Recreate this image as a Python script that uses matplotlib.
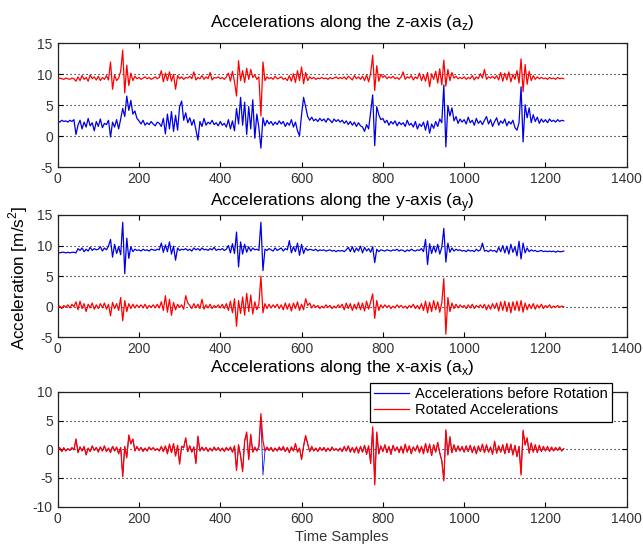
import matplotlib
matplotlib.use("Agg")
import matplotlib.pyplot as plt
import numpy as np


# accelerations, one value every 5 samples (0 ... 1245)
SAMPLE_STEP = 5

z_before = [
    2.5, 2.3, 2.6, 2.4, 2.5, 2.3, 2.6, 2.4, 2.7, 0.3,
    1.8, 2.6, 1.2, 2.3, 1.5, 2.9, 1.7, 2.2, 0.9, 2.4,
    1.6, 2.8, 1.4, 2.1, 1.9, 2.6, -0.1, 2.3, 1.5, 2.7,
    1.2, 2.8, 4.5, 3.2, 6.5, 4.2, 5.8, 3.6, 4.1, 2.9,
    2.5, 2.0, 2.6, 1.8, 2.2, 1.9, 2.4, 2.0, 1.7, 2.3,
    2.1, 1.6, 2.9, 0.4, 3.6, 1.2, 4.0, 0.8, 3.4, 1.0,
    4.8, 5.7, 2.6, 3.8, 2.2, 3.0, 1.8, 2.7, 1.1, -0.6,
    2.4, 1.6, 2.9, 1.8, 2.3, 2.0, 2.6, 1.9, 2.2, 1.7,
    2.4, 1.8, 2.1, 1.5, 2.7, 1.2, 2.5, 0.9, 4.5, 2.0,
    6.3, 1.8, 5.5, 0.3, 4.8, 1.2, 5.9, -0.3, 3.6, 1.4,
    -1.9, 3.0, 1.7, 2.6, 2.0, 2.4, 1.8, 2.3, 1.9, 2.5,
    2.0, 2.4, 1.6, 2.2, 1.8, 2.7, 1.5, 2.3, 0.9, 0.1,
    3.5, 6.3, 4.8, 3.2, 2.6, 3.1, 2.5, 2.8, 2.4, 2.9,
    2.5, 2.8, 2.3, 2.9, 2.6, 2.2, 2.8, 2.4, 2.7, 2.3,
    2.6, 2.1, 2.5, 1.9, 2.4, 1.8, 2.3, 1.6, 2.2, 1.7,
    1.5, 0.8, 1.9, 1.2, 4.0, 6.7, -1.5, 4.8, 3.5, 2.7,
    2.9, 2.2, 2.6, 1.8, 2.4, 2.0, 2.5, 1.7, 2.3, 1.9,
    2.2, 1.6, 2.6, 1.8, 2.1, 1.5, 2.4, 1.2, 2.0, 1.6,
    2.3, 1.0, 2.5, 0.5, 2.0, 1.3, 2.4, 1.6, 2.8, 2.2,
    8.3, -1.7, 5.0, 3.3, 4.6, 2.5, 3.2, 2.1, 2.8, 2.3,
    2.7, 2.0, 3.1, 2.2, 2.6, 1.8, 2.9, 2.1, 2.5, 1.9,
    2.6, 3.2, 2.0, 2.7, 1.6, 2.4, 3.0, 1.8, 2.5, 2.1,
    2.8, 1.7, 2.4, 2.0, 2.6, 1.4, 1.0, 2.2, 8.0, -0.9,
    5.1, 3.0, 4.6, 2.2, 3.5, 2.4, 3.1, 2.1, 2.8, 2.3,
    2.7, 2.2, 2.8, 2.4, 2.6, 2.3, 2.7, 2.4, 2.6, 2.5,
]

z_rotated = [
    9.2, 9.4, 9.3, 9.2, 9.4, 9.3, 9.2, 9.4, 9.3, 8.9,
    9.6, 9.0, 9.8, 9.2, 9.5, 8.9, 9.9, 9.3, 9.6, 9.1,
    9.7, 9.0, 9.5, 9.2, 9.8, 9.1, 12.0, 7.6, 9.9, 9.0,
    9.4, 10.5, 13.9, 7.0, 11.5, 8.2, 10.2, 9.0, 9.7, 9.3,
    9.5, 9.2, 9.4, 9.6, 9.3, 9.5, 9.2, 9.4, 9.6, 9.3,
    9.5, 10.6, 8.8, 10.2, 9.0, 10.4, 8.9, 10.0, 7.6, 9.8,
    9.3, 9.6, 9.2, 9.5, 9.4, 9.7, 9.3, 10.4, 9.1, 9.5,
    9.3, 9.8, 9.2, 9.6, 9.3, 10.3, 9.1, 9.5, 9.4, 9.6,
    9.3, 9.5, 9.2, 9.6, 10.2, 8.9, 10.5, 8.8, 6.5, 12.2,
    9.0, 10.6, 8.7, 11.0, 9.2, 10.8, 9.5, 9.9, 9.2, 9.6,
    3.3, 12.0, 9.0, 9.6, 9.3, 9.5, 9.2, 9.7, 9.3, 9.4,
    9.6, 9.2, 9.4, 9.0, 9.8, 8.9, 10.1, 8.7, 10.6, 9.0,
    11.2, 8.5, 10.3, 9.0, 9.6, 9.3, 9.5, 9.2, 9.4, 9.3,
    9.5, 9.3, 9.4, 9.2, 9.5, 9.3, 9.4, 9.6, 9.3, 9.5,
    9.3, 9.6, 9.2, 9.7, 9.4, 9.1, 9.8, 9.3, 9.6, 9.2,
    9.7, 9.0, 9.9, 8.8, 10.2, 13.1, 7.4, 11.4, 8.9, 10.0,
    9.5, 9.8, 9.3, 9.6, 9.4, 9.7, 9.3, 9.5, 9.2, 9.6,
    10.4, 9.2, 9.6, 9.4, 9.8, 9.1, 9.6, 9.3, 10.2, 9.0,
    9.9, 8.9, 10.3, 8.0, 10.1, 9.2, 10.5, 8.6, 10.9, 8.3,
    12.3, 8.1, 10.8, 9.0, 10.3, 9.4, 9.7, 9.3, 9.5, 9.3,
    9.6, 9.2, 9.5, 9.3, 9.8, 9.1, 9.6, 9.3, 10.1, 9.4,
    10.8, 9.2, 9.6, 9.4, 9.7, 9.3, 9.8, 9.1, 10.3, 8.9,
    10.2, 9.1, 10.4, 8.8, 10.0, 9.2, 10.6, 8.6, 12.5, 7.2,
    11.6, 8.4, 10.5, 9.0, 9.8, 9.2, 9.6, 9.3, 9.5, 9.3,
    9.4, 9.2, 9.5, 9.3, 9.4, 9.2, 9.5, 9.3, 9.4, 9.3,
]

y_before = [
    8.9, 8.8, 8.9, 8.9, 8.8, 8.9, 8.8, 8.9, 8.9, 8.8,
    9.5, 9.2, 9.6, 9.0, 9.4, 9.1, 9.7, 9.2, 9.5, 9.3,
    9.4, 9.8, 9.1, 9.6, 9.3, 9.9, 11.0, 8.1, 10.2, 8.7,
    9.8, 8.5, 13.8, 5.4, 11.2, 7.9, 9.8, 9.0, 9.4, 9.2,
    9.3, 9.1, 9.4, 9.2, 9.3, 9.1, 9.4, 9.3, 9.2, 9.4,
    9.3, 10.4, 8.9, 10.1, 9.0, 10.6, 8.6, 9.9, 7.6, 9.6,
    9.2, 9.4, 9.3, 9.5, 9.2, 9.4, 9.1, 9.6, 9.3, 9.5,
    9.2, 9.6, 9.3, 9.4, 9.2, 9.5, 9.3, 9.7, 9.2, 9.4,
    9.3, 9.5, 9.2, 9.4, 10.0, 8.8, 10.3, 8.7, 12.2, 6.5,
    10.6, 8.6, 10.2, 8.9, 9.8, 9.1, 9.6, 9.3, 9.4, 9.2,
    13.8, 5.9, 9.4, 9.2, 9.5, 9.3, 9.1, 9.6, 9.2, 9.4,
    9.6, 9.1, 9.5, 9.3, 10.8, 8.8, 9.8, 9.0, 10.4, 8.4,
    10.2, 8.7, 9.6, 9.2, 9.4, 9.3, 9.2, 9.4, 9.1, 9.3,
    9.2, 9.3, 9.1, 9.2, 9.3, 9.1, 9.2, 9.0, 9.2, 9.1,
    9.2, 9.0, 9.3, 9.7, 9.0, 9.8, 8.9, 9.6, 9.1, 9.9,
    8.8, 9.7, 9.1, 9.5, 8.9, 9.8, 7.2, 9.4, 9.0, 9.3,
    9.2, 9.1, 9.3, 9.2, 9.1, 9.3, 9.2, 9.4, 9.1, 9.3,
    9.2, 9.0, 9.3, 9.1, 9.4, 9.2, 9.1, 9.3, 9.2, 9.5,
    9.0, 11.0, 6.9, 10.3, 8.7, 9.9, 8.9, 10.2, 8.6, 9.7,
    12.8, 7.3, 10.4, 8.9, 9.6, 9.1, 9.4, 9.2, 9.3, 9.1,
    9.2, 9.0, 9.3, 9.1, 9.2, 9.0, 9.4, 9.1, 9.3, 10.4,
    9.1, 9.2, 9.0, 9.3, 9.1, 9.2, 8.9, 9.7, 9.0, 10.0,
    8.8, 9.9, 8.6, 10.2, 8.9, 9.8, 8.3, 10.7, 7.8, 10.4,
    8.8, 9.6, 9.0, 9.3, 9.1, 9.2, 9.0, 9.1, 9.2, 9.0,
    9.1, 9.0, 9.1, 9.0, 9.1, 8.9, 9.1, 9.0, 9.0, 9.1,
]

y_rotated = [
    -0.2, 0.1, -0.3, 0.2, -0.1, 0.3, -0.2, 0.4, 0.0, 0.8,
    -0.5, 0.9, -0.3, 0.5, -0.8, 0.4, -0.2, 0.6, -0.4, 0.3,
    -0.3, 0.5, -0.2, 0.6, -0.4, 0.4, -1.5, 0.7, -0.3, 0.5,
    -0.6, 1.5, -2.3, 1.0, -0.8, 0.5, -0.3, 0.4, -0.2, 0.3,
    -0.1, 0.3, -0.2, 0.4, -0.3, 0.2, -0.1, 0.3, -0.2, 0.4,
    -0.2, 0.8, -0.6, 1.8, -0.9, 1.2, -1.4, 0.7, -0.5, 0.4,
    -0.1, 0.3, -0.4, 1.8, 0.6, 0.2, -0.3, 0.5, -0.2, 0.4,
    -0.3, 1.2, -0.4, 0.3, -0.2, 0.4, -0.3, 0.2, -0.1, 0.3,
    -0.2, 0.4, -0.3, 0.5, -0.6, 0.9, -1.0, 1.3, -3.2, 1.0,
    -1.1, 1.6, -1.4, 2.2, -0.8, 1.9, -1.2, 0.8, -0.5, 0.4,
    5.0, -1.0, 0.5, -0.3, 0.4, -0.2, 0.3, -0.1, 0.4, -0.3,
    0.3, -0.5, 0.6, -0.4, 0.5, -0.7, 0.6, -0.3, 0.8, -0.6,
    0.4, -0.5, 1.3, 0.2, 0.6, -0.2, 0.3, -0.1, 0.2, -0.3,
    0.1, -0.2, 0.3, -0.1, 0.2, -0.3, 0.1, -0.2, 0.3, -0.1,
    0.4, -0.5, 0.6, -0.3, 0.5, -0.6, 0.4, -0.4, 0.7, -0.5,
    0.6, -0.7, 0.9, -0.4, 0.8, 2.1, -1.9, 1.0, -0.6, 0.3,
    -0.2, 0.3, -0.1, 0.2, -0.3, 0.1, -0.2, 0.3, -0.1, 0.2,
    -0.2, 0.1, -0.3, 0.2, -0.1, 0.4, -0.3, 0.2, -0.4, 0.5,
    -0.6, 0.9, -1.0, 0.7, -0.8, 1.0, -0.5, 0.8, -0.9, 0.6,
    4.6, -4.5, 1.5, -0.8, 0.6, -0.3, 0.4, -0.2, 0.3, -0.1,
    0.2, -0.3, 0.3, -0.2, 0.4, -0.3, 0.2, -0.1, 0.3, -0.2,
    0.4, -0.5, 0.3, -0.4, 0.5, -0.3, 0.6, -0.7, 0.8, -0.6,
    0.9, -0.8, 0.7, -1.0, 0.8, -0.6, 0.9, -0.7, 1.0, -0.9,
    0.6, -0.5, 0.4, -0.3, 0.5, -0.4, 0.3, -0.2, 0.4, -0.3,
    0.2, -0.1, 0.3, -0.2, 0.1, -0.1, 0.2, -0.1, 0.1, 0.0,
]

x_before = [
    -0.1, 0.2, -0.4, 0.3, -0.3, 0.1, -0.2, 0.2, -0.1, 1.7,
    -0.5, 0.4, -0.3, 0.4, -0.9, 0.2, -0.4, 0.5, -0.2, 0.3,
    -0.4, 0.4, -0.3, 0.5, -0.4, 0.2, -0.5, 0.5, -0.3, 0.3,
    -0.7, 0.3, -4.6, 0.4, -1.3, 2.3, 0.9, 1.7, -0.3, 0.4,
    -0.2, 0.3, -0.3, 0.2, -0.3, 0.3, -0.1, 0.2, -0.2, 0.1,
    -0.3, 0.4, -0.4, 0.5, -0.7, 0.8, -0.6, 0.9, -1.1, 0.6,
    -2.4, 0.5, 0.2, 1.9, -0.4, 0.5, -0.5, 0.4, -2.3, 2.1,
    -0.3, 0.3, -0.2, 0.3, -0.3, 0.2, -0.3, 0.3, -0.2, 0.3,
    -0.3, 0.2, -0.3, 0.3, -0.2, 0.3, -0.5, 0.5, -3.5, 0.7,
    -1.1, -3.7, 1.4, 2.8, -1.7, 2.4, -0.5, 0.3, -0.3, 0.4,
    5.6, -4.5, -0.3, 0.3, -0.2, 0.3, -0.3, 0.2, -0.3, 0.3,
    -0.2, 0.4, -0.4, 0.3, -0.5, 0.4, -0.3, 0.9, -0.5, 0.2,
    -1.7, 0.5, 2.2, 0.9, -0.4, 0.4, -0.3, 0.2, -0.3, 0.3,
    -0.2, 0.3, -0.3, 0.2, -0.3, 0.3, -0.2, 0.1, -0.3, 0.2,
    -0.4, 0.4, -0.3, 0.5, -0.5, 0.3, -0.5, 0.4, -0.6, 0.4,
    -0.5, 0.6, -0.8, 0.5, -2.3, 3.6, -5.9, 2.8, -0.8, 0.5,
    -0.4, 0.7, -0.6, 0.4, -0.8, 0.6, -0.3, 0.4, -0.5, 0.4,
    -0.6, 0.8, -0.5, 0.5, -0.7, 0.4, -0.3, 0.6, -0.5, 0.4,
    -0.7, 0.9, -0.6, 0.8, -1.0, 0.7, -0.5, 1.1, -0.6, -1.9,
    -5.2, 3.2, -0.9, 2.0, -0.6, 0.7, -0.4, 0.5, -0.3, 0.4,
    -0.5, 0.5, -0.4, 0.6, -0.5, 0.5, -0.7, 0.5, -0.4, 0.8,
    -0.6, 0.7, -0.5, 0.4, -0.8, 1.3, -0.6, 0.5, -0.5, 0.7,
    -0.7, 0.9, -0.6, 0.8, -0.9, 0.6, -1.2, 0.5, -4.2, 3.1,
    0.7, 1.9, -0.6, 1.0, -0.5, 0.7, -0.5, 0.6, -0.4, 0.4,
    -0.3, 0.4, -0.3, 0.3, -0.3, 0.3, -0.2, 0.3, -0.3, 0.1,
]

x_rotated = [
    -0.1, 0.3, -0.4, 0.2, -0.3, 0.1, -0.2, 0.3, -0.1, 1.8,
    -0.6, 0.4, -0.3, 0.5, -1.0, 0.2, -0.4, 0.6, -0.2, 0.3,
    -0.5, 0.4, -0.3, 0.6, -0.4, 0.2, -0.6, 0.5, -0.3, 0.4,
    -0.8, 0.3, -4.8, 0.5, -1.5, 2.5, 1.0, 1.8, -0.3, 0.5,
    -0.2, 0.3, -0.4, 0.2, -0.3, 0.4, -0.1, 0.3, -0.2, 0.1,
    -0.3, 0.5, -0.4, 0.6, -0.8, 0.9, -0.6, 1.0, -1.2, 0.7,
    -2.6, 0.5, 0.3, 2.0, -0.4, 0.6, -0.5, 0.4, -2.5, 2.3,
    -0.3, 0.4, -0.2, 0.3, -0.4, 0.2, -0.3, 0.4, -0.2, 0.3,
    -0.3, 0.2, -0.4, 0.3, -0.2, 0.4, -0.5, 0.6, -3.7, 0.8,
    -1.2, -3.9, 1.5, 3.0, -1.8, 2.6, -0.5, 0.4, -0.3, 0.5,
    6.2, 1.5, -0.3, 0.4, -0.2, 0.3, -0.4, 0.2, -0.3, 0.4,
    -0.2, 0.5, -0.4, 0.3, -0.6, 0.4, -0.3, 1.0, -0.5, 0.2,
    -1.8, 0.6, 2.4, 1.0, -0.4, 0.5, -0.3, 0.2, -0.4, 0.3,
    -0.2, 0.3, -0.4, 0.2, -0.3, 0.4, -0.2, 0.1, -0.3, 0.2,
    -0.4, 0.5, -0.3, 0.6, -0.5, 0.3, -0.6, 0.4, -0.7, 0.5,
    -0.5, 0.7, -0.9, 0.6, -2.5, 3.9, -6.2, 3.0, -0.8, 0.6,
    -0.4, 0.8, -0.6, 0.5, -0.9, 0.7, -0.3, 0.4, -0.6, 0.5,
    -0.7, 0.9, -0.5, 0.6, -0.8, 0.4, -0.3, 0.7, -0.6, 0.5,
    -0.8, 1.0, -0.6, 0.9, -1.1, 0.8, -0.5, 1.2, -0.7, -2.0,
    -5.5, 3.4, -1.0, 2.2, -0.6, 0.8, -0.4, 0.6, -0.3, 0.5,
    -0.5, 0.6, -0.4, 0.7, -0.6, 0.5, -0.8, 0.6, -0.4, 0.9,
    -0.6, 0.8, -0.5, 0.4, -0.9, 1.4, -0.7, 0.6, -0.5, 0.8,
    -0.8, 1.0, -0.6, 0.9, -1.0, 0.7, -1.3, 0.5, -4.5, 3.3,
    0.8, 2.0, -0.7, 1.1, -0.5, 0.8, -0.6, 0.7, -0.4, 0.5,
    -0.3, 0.5, -0.4, 0.4, -0.3, 0.3, -0.2, 0.4, -0.3, 0.1,
]

titles = [
    "Accelerations along the z-axis (a$_\\mathregular{z}$)",
    "Accelerations along the y-axis (a$_\\mathregular{y}$)",
    "Accelerations along the x-axis (a$_\\mathregular{x}$)",
]
legend_labels = ["Accelerations before Rotation", "Rotated Accelerations"]
x_ticks = [0, 200, 400, 600, 800, 1000, 1200, 1400]
y_ticks_top = [-5, 0, 5, 10, 15]
y_ticks_bottom = [-10, -5, 0, 5, 10]

BLUE = "#0000e6"
RED = "#ff0000"
TICK_GREY = "#333333"


def style_axis(ax, yticks):
    ax.set_xlim(0, 1400)
    ax.set_ylim(yticks[0], yticks[-1])
    ax.set_xticks(x_ticks)
    ax.set_yticks(yticks)
    ax.tick_params(direction="in", length=3.5, width=0.8, top=True, right=True,
                   labelsize=10, labelcolor=TICK_GREY, pad=3.5)
    for spine in ax.spines.values():
        spine.set_linewidth(0.9)
        spine.set_color("#222222")
    # matlab style dotted grid on y only
    for y in yticks[1:-1]:
        ax.axhline(y, color="black", lw=0.8, ls=(0, (1, 2.6)), zorder=0)


def main():
    plt.rcParams["font.family"] = ["Liberation Sans", "DejaVu Sans"]
    plt.rcParams["mathtext.fontset"] = "custom"
    plt.rcParams["mathtext.rm"] = "Liberation Sans"
    plt.rcParams["axes.unicode_minus"] = False

    fig = plt.figure(figsize=(6.43, 5.47), dpi=100)
    left, width = 0.0897, 0.885
    axes = [
        fig.add_axes([left, 0.694, width, 0.2267]),
        fig.add_axes([left, 0.3834, width, 0.2236]),
        fig.add_axes([left, 0.0737, width, 0.210]),
    ]
    panels = [(z_before, z_rotated), (y_before, y_rotated), (x_before, x_rotated)]
    pads = [12.0, 6.5, 14.0]
    blue_widths = [0.9, 0.9, 0.55]
    yticks_list = [y_ticks_top, y_ticks_top, y_ticks_bottom]

    for ax, (before, rotated), title, pad, bw, yticks in zip(
            axes, panels, titles, pads, blue_widths, yticks_list):
        samples = np.arange(len(before)) * SAMPLE_STEP
        ax.plot(samples, before, color=BLUE, lw=bw, label=legend_labels[0], zorder=2)
        ax.plot(samples, rotated, color=RED, lw=0.9, label=legend_labels[1], zorder=3)
        style_axis(ax, yticks)
        ax.set_title(title, fontsize=12.5, pad=pad)

    axes[1].set_ylabel("Acceleration [m/s$^\\mathregular{2}$]", fontsize=12.3)
    axes[1].yaxis.set_label_coords(-0.0487, 0.482)
    axes[2].set_xlabel("Time Samples", fontsize=10.5, color="#333333", labelpad=3)

    leg = axes[2].legend(loc="upper left", bbox_to_anchor=(0.549, 1.078), borderaxespad=0,
                         fontsize=10.5, handlelength=2.4, handletextpad=0.36,
                         borderpad=0.3, labelspacing=0.15, fancybox=False, framealpha=1)
    leg.get_frame().set_edgecolor("black")
    leg.get_frame().set_linewidth(0.9)
    leg.legend_handles[0].set_linewidth(0.9)
    leg.set_zorder(5)

    fig.savefig("out.png", dpi=100, facecolor="white")
    plt.close(fig)


if __name__ == "__main__":
    main()
